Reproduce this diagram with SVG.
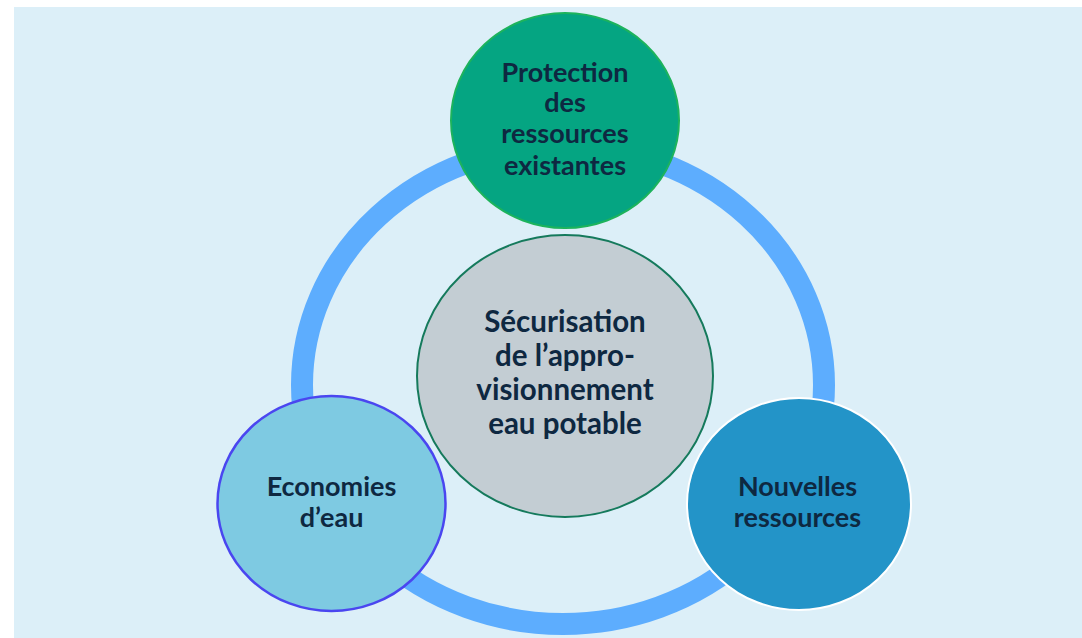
<svg xmlns="http://www.w3.org/2000/svg" width="1082" height="638" viewBox="0 0 1082 638">
<style>
.t{font-family:Lato,"Open Sans","Liberation Sans",sans-serif;font-weight:bold;fill:#0E2841;text-anchor:middle}
.s{font-size:27px}
.b{font-size:29.5px}
</style>
<rect x="0" y="0" width="1082" height="638" fill="#FFFFFF"/>
<rect x="14" y="7" width="1068" height="631" fill="#DCEFF8"/>
<g id="connectors">
<ellipse cx="563" cy="385" rx="261" ry="239" fill="none" stroke="#5DADFE" stroke-width="22"/>
</g>
<g id="center">
<ellipse cx="565" cy="376" rx="148" ry="141" fill="#C3CDD3" stroke="#157A5C" stroke-width="2"/>
<text class="t b" x="565" y="332">Sécurisation</text>
<text class="t b" x="565" y="366">de l’appro-</text>
<text class="t b" x="565" y="400">visionnement</text>
<text class="t b" x="565" y="434">eau potable</text>
</g>
<g id="protection">
<ellipse cx="565" cy="120.5" rx="114" ry="107.5" fill="#05A582" stroke="#1DB35C" stroke-width="2"/>
<text class="t s" x="565" y="82">Protection</text>
<text class="t s" x="565" y="112">des</text>
<text class="t s" x="565" y="143">ressources</text>
<text class="t s" x="565" y="175">existantes</text>
</g>
<g id="economies">
<ellipse cx="331.5" cy="503.5" rx="114" ry="107.5" fill="#7ECAE2" stroke="#4A46F0" stroke-width="2.5"/>
<text class="t s" x="331.5" y="496">Economies</text>
<text class="t s" x="331.5" y="527">d’eau</text>
</g>
<g id="nouvelles">
<ellipse cx="799" cy="504" rx="112" ry="106" fill="#2394C8" stroke="#FFFFFF" stroke-width="2"/>
<text class="t s" x="797.5" y="496">Nouvelles</text>
<text class="t s" x="797.5" y="527">ressources</text>
</g>
</svg>
